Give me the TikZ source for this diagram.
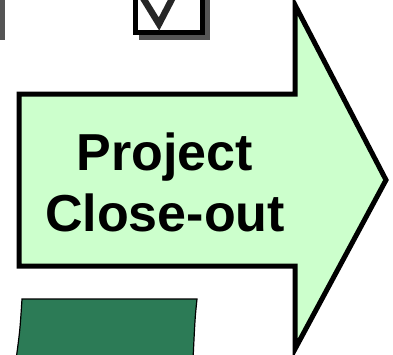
\documentclass[tikz,border=0pt]{standalone}
\usepackage{fontspec}
\setmainfont{Liberation Sans}
\usepackage{xcolor}
\usepackage{tikz}
\usetikzlibrary{positioning}
\definecolor{arrowgreen}{RGB}{204,255,204}
\definecolor{darkgreen}{RGB}{44,123,86}
\definecolor{shadowgray}{RGB}{85,85,85}
\tikzset{
  bigarrow/.style={draw=black,fill=arrowgreen,line width=5pt,line join=miter},
  arrowtext/.style={font=\fontsize{52}{61}\selectfont\bfseries,align=center},
}

\begin{document}
\begin{tikzpicture}[x=1pt,y=-1pt]
      \useasboundingbox (0,0) rectangle (393,354);
      \clip (0,0) rectangle (393,354);

      % gray bar on the left edge
      \fill[shadowgray] (0,-5) rectangle (5,40);

      % checkbox, cut off at the top
      \fill[shadowgray] (139,-5) rectangle (210,40);
      \draw[fill=white,line width=5pt] (135.5,-10) rectangle (202.5,32.5);
      \draw[black!85,line width=6.5pt] (143,-2) -- (159,24) -- (173,-3);

      % the arrow
      \draw[bigarrow] (19,94) -- (295,94) -- (295,5) -- (386,180)
        -- (295,349) -- (295,266) -- (19,266) -- cycle;
      \node[arrowtext] (closeout) at (165,182) {Project\\Close-out};

      % green block at the bottom
      \draw[fill=darkgreen,line width=1.2pt] (22,299) -- (197,299)
        .. controls (195,318) .. (193,360) -- (16,360)
        .. controls (20,330) .. (22,299) -- cycle;
    \end{tikzpicture}
\end{document}
